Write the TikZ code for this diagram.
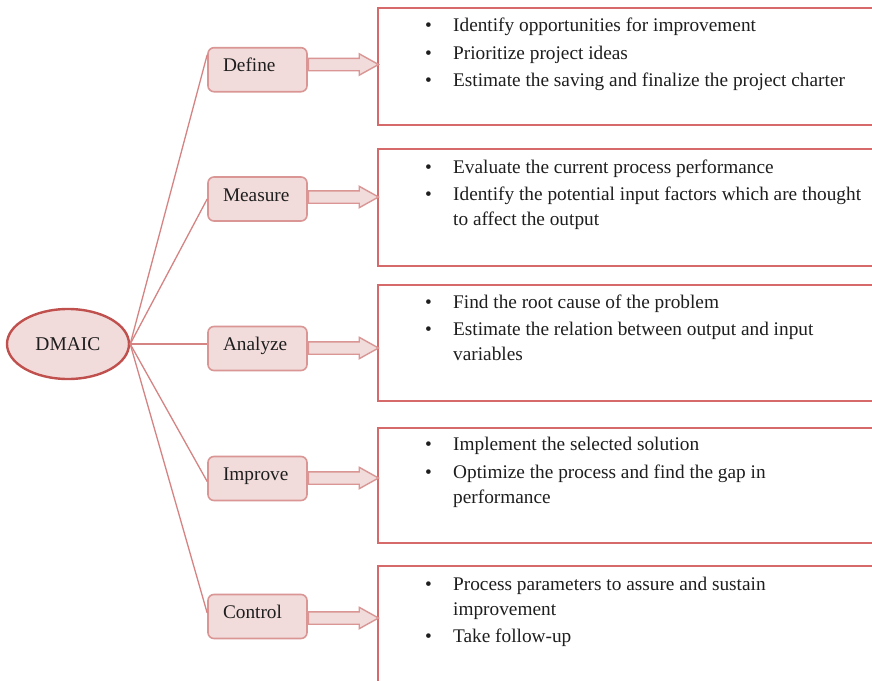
\documentclass[tikz,border=0pt]{standalone}
\usepackage{fontspec}
\setmainfont{Liberation Serif}
\usetikzlibrary{shapes.geometric,shapes.arrows,calc}

\definecolor{pinkfill}{HTML}{F2DCDB}
\definecolor{rosedraw}{HTML}{D99694}
\definecolor{darkred}{HTML}{C0504D}
\definecolor{boxline}{HTML}{D66A6A}
\definecolor{linkline}{HTML}{D58383}
\definecolor{ink}{HTML}{1E1E1E}

% bullet item with hanging indent for wrapped lines
\newcommand\bitem{\noindent\hangindent=28pt\hangafter=1\makebox[28pt][l]{\textbullet}}
\newcommand\itemtext[1]{\begin{minipage}[t]{470pt}\raggedright
  \fontsize{19.3pt}{25pt}\selectfont\setlength\parskip{2.5pt}#1\end{minipage}}

\tikzset{
  stepbox/.style={draw=rosedraw, fill=pinkfill, rounded corners=6pt, line width=1.6pt,
    minimum height=44pt, text width=69pt, inner xsep=15pt, inner ysep=0pt, align=left,
    text height=12pt, text depth=8pt, font=\fontsize{19.3pt}{23pt}\selectfont, text=ink},
  rootnode/.style={ellipse, draw=darkred, fill=pinkfill, line width=2.4pt,
    minimum width=122pt, minimum height=70pt, inner sep=0pt,
    font=\fontsize{19.5pt}{23pt}\selectfont, text=ink},
  link/.style={draw=linkline, line width=1.3pt},
  contentbox/.style={draw=boxline, line width=2pt, anchor=north west,
    minimum width=520pt, inner sep=0pt},
  listtext/.style={anchor=base west, inner sep=0pt, text=ink},
  blockarrow/.style={single arrow, draw=rosedraw, fill=pinkfill, line width=1.4pt,
    minimum height=70pt, minimum width=20pt, single arrow head extend=4.5pt,
    single arrow tip angle=58, inner xsep=0pt, inner ysep=5.5pt,
    text height=0pt, text depth=0pt, anchor=west}
}

\begin{document}
\begin{tikzpicture}[x=1pt, y=-1pt]
\useasboundingbox (0,0) rectangle (872,680);
\clip (0,0) rectangle (872,680);
\fill[white] (0,0) rectangle (872,680);

% root
\node[rootnode] (dmaic) at (68,344) {DMAIC};

% phase boxes
\node[stepbox] (def) at (257.5,69.7)  {Define};
\node[stepbox] (mea) at (257.5,199)   {Measure};
\node[stepbox] (ana) at (257.5,348.5) {Analyze};
\node[stepbox] (imp) at (257.5,478.5) {Improve};
\node[stepbox] (ctl) at (257.5,616.5) {Control};

% connectors from the root
\draw[link] (dmaic.east) -- ([yshift=15pt]def.west);
\draw[link] (dmaic.east) -- (mea.west);
\draw[link] (dmaic.east) -- ([yshift=4.5pt]ana.west);
\draw[link] (dmaic.east) -- ([yshift=-3pt]imp.west);
\draw[link] (dmaic.east) -- ([yshift=3.5pt]ctl.west);

% content boxes
\node[contentbox, minimum height=117pt]   (defbox) at (376.5,6.7)   {};
\node[contentbox, minimum height=116.5pt] (meabox) at (376.5,148.3) {};
\node[contentbox, minimum height=116pt]   (anabox) at (376.5,284.3) {};
\node[contentbox, minimum height=115.5pt] (impbox) at (376.5,426.8) {};
\node[contentbox, minimum height=140pt]   (ctlbox) at (376.5,564.5) {};

% block arrows
\node[blockarrow] (defarr) at (def.east |- 0,64.5) {};
\node[blockarrow] (meaarr) at (mea.east |- 0,197) {};
\node[blockarrow] (anaarr) at (ana.east |- 0,348) {};
\node[blockarrow] (imparr) at (imp.east |- 0,478) {};
\node[blockarrow] (ctlarr) at (ctl.east |- 0,618) {};

% lists
\node[listtext] (deflist) at (425,31.5) {\itemtext{%
  \bitem Identify opportunities for improvement\par
  \bitem Prioritize project ideas\par
  \bitem Estimate the saving and finalize the project charter}};
\node[listtext] (mealist) at (425,173) {\itemtext{%
  \bitem Evaluate the current process performance\par
  \bitem Identify the potential input factors which are thought\newline to affect the output}};
\node[listtext] (analist) at (425,308) {\itemtext{%
  \bitem Find the root cause of the problem\par
  \bitem Estimate the relation between output and input\newline variables}};
\node[listtext] (implist) at (425,450.7) {\itemtext{%
  \bitem Implement the selected solution\par
  \bitem Optimize the process and find the gap in\newline performance}};
\node[listtext] (ctllist) at (425,590) {\itemtext{%
  \bitem Process parameters to assure and sustain\newline improvement\par
  \bitem Take follow-up}};
\end{tikzpicture}
\end{document}
